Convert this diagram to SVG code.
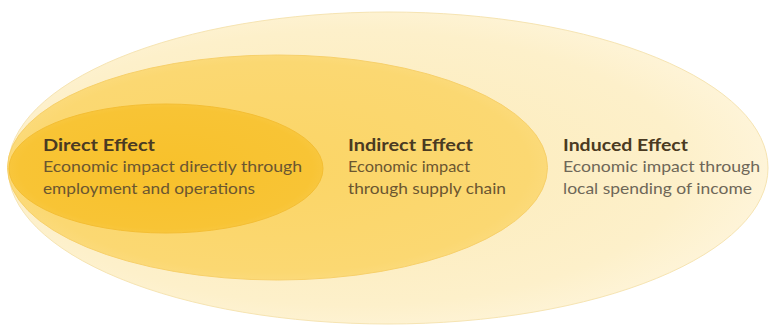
<svg xmlns="http://www.w3.org/2000/svg" width="770" height="327" viewBox="0 0 770 327">
  <defs>
    <radialGradient id="gOuter" cx="0.45" cy="0.5" r="0.55">
      <stop offset="0" stop-color="#FCEBB8"/>
      <stop offset="0.8" stop-color="#FDF0CA"/>
      <stop offset="1" stop-color="#FEF4D8"/>
    </radialGradient>
    <radialGradient id="gMiddle" cx="0.5" cy="0.5" r="0.55">
      <stop offset="0" stop-color="#FBD566"/>
      <stop offset="0.85" stop-color="#FBD872"/>
      <stop offset="1" stop-color="#FCDD84"/>
    </radialGradient>
    <radialGradient id="gInner" cx="0.5" cy="0.5" r="0.55">
      <stop offset="0" stop-color="#F8C12B"/>
      <stop offset="0.85" stop-color="#F8C435"/>
      <stop offset="1" stop-color="#F9CA48"/>
    </radialGradient>
    <style>
      .title { font-family: "Lato", "Liberation Sans", sans-serif; font-weight: bold; font-size: 17px; fill: #4A3A22; }
      .body { font-family: "Lato", "Liberation Sans", sans-serif; font-size: 15px; fill: #6B5630; }
      .bodyPale { font-family: "Lato", "Liberation Sans", sans-serif; font-size: 15px; fill: #6E6758; }
      .ring { stroke-width: 1; }
    </style>
  </defs>

  <rect width="770" height="327" fill="#FFFFFF"/>

  <!-- outermost ring: induced effect -->
  <g id="induced">
    <ellipse class="ring" cx="388" cy="168" rx="380" ry="156" fill="url(#gOuter)" stroke="#F6E4B2"/>
    <text class="title" x="563" y="151" textLength="125" lengthAdjust="spacingAndGlyphs">Induced Effect</text>
    <text class="bodyPale" x="563" y="172" textLength="197" lengthAdjust="spacingAndGlyphs">Economic impact through</text>
    <text class="bodyPale" x="563" y="194" textLength="189" lengthAdjust="spacingAndGlyphs">local spending of income</text>
  </g>

  <!-- middle ring: indirect effect -->
  <g id="indirect">
    <ellipse class="ring" cx="277.5" cy="167.5" rx="270" ry="112.5" fill="url(#gMiddle)" stroke="#F7D06A"/>
    <text class="title" x="348" y="151" textLength="125" lengthAdjust="spacingAndGlyphs">Indirect Effect</text>
    <text class="body" x="348" y="172" textLength="122" lengthAdjust="spacingAndGlyphs">Economic impact</text>
    <text class="body" x="348" y="194" textLength="158" lengthAdjust="spacingAndGlyphs">through supply chain</text>
  </g>

  <!-- core: direct effect -->
  <g id="direct">
    <ellipse class="ring" cx="166" cy="168.5" rx="157" ry="64.5" fill="url(#gInner)" stroke="#F4BE33"/>
    <text class="title" x="43" y="151" textLength="112" lengthAdjust="spacingAndGlyphs">Direct Effect</text>
    <text class="body" x="43" y="172" textLength="259" lengthAdjust="spacingAndGlyphs">Economic impact directly through</text>
    <text class="body" x="43" y="194" textLength="212" lengthAdjust="spacingAndGlyphs">employment and operations</text>
  </g>

  <g id="connectors"/>
</svg>
